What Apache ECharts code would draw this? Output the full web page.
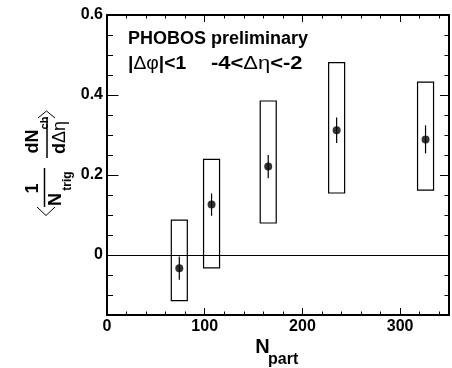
<!DOCTYPE html>
<html>
<head>
<meta charset="utf-8">
<script src="https://cdn.jsdelivr.net/npm/echarts@6/dist/echarts.min.js"></script>
<style>
html, body { margin: 0; padding: 0; background: #fff; }
#chart { width: 452px; height: 368px; }
</style>
</head>
<body>
<div id="chart"></div>
<script>
// ridge yield vs centrality
const nPart = [74, 107, 165, 235, 326];
const ridgeYield = [-0.033, 0.126, 0.221, 0.312, 0.289];
const statErr = [0.029, 0.028, 0.029, 0.032, 0.035];
const sysLow = [-0.114, -0.032, 0.080, 0.155, 0.162];
const sysHigh = [0.087, 0.239, 0.385, 0.481, 0.432];

const xMajorTicks = [0, 100, 200, 300];
const yMajorTicks = [0, 0.2, 0.4, 0.6];

const FONT = '"Liberation Sans", Arial, Helvetica, sans-serif';
const BLACK = '#000';

function xAxes(pos, withLabels, majorLen, minorLen) {
	return [
		{
			type: 'value',
			position: pos,
			min: 0,
			max: 350,
			interval: 20,
			axisLine: { show: true, onZero: false, lineStyle: { color: BLACK, width: 2 } },
			axisTick: { show: true, inside: true, length: minorLen, lineStyle: { color: BLACK, width: 1 } },
			axisLabel: {
				show: withLabels,
				margin: 4,
				color: BLACK,
				fontFamily: FONT,
				fontWeight: 'bold',
				fontSize: 16,
				formatter: (v) => (xMajorTicks.includes(Math.round(v)) ? String(Math.round(v)) : ''),
			},
			splitLine: { show: false },
		},
		{
			type: 'value',
			position: pos,
			min: 0,
			max: 350,
			axisLine: { show: false, onZero: false },
			axisTick: { show: true, inside: true, length: majorLen, customValues: xMajorTicks, lineStyle: { color: BLACK, width: 1 } },
			axisLabel: { show: false },
			splitLine: { show: false },
		},
	];
}

function yAxes(pos, withLabels, majorLen, minorLen) {
	return [
		{
			type: 'value',
			position: pos,
			min: -0.15,
			max: 0.6,
			interval: 0.05,
			axisLine: { show: true, onZero: false, lineStyle: { color: BLACK, width: 2 } },
			axisTick: { show: true, inside: true, length: minorLen, lineStyle: { color: BLACK, width: 1 } },
			axisLabel: {
				show: withLabels,
				margin: 4,
				color: BLACK,
				fontFamily: FONT,
				fontWeight: 'bold',
				fontSize: 16,
				formatter: (v) => {
					const k = Math.round(v * 20);
					if (k % 4 !== 0) return '';
					return k === 0 ? '0' : (k / 20).toFixed(1);
				},
			},
			splitLine: { show: false },
		},
		{
			type: 'value',
			position: pos,
			min: -0.15,
			max: 0.6,
			axisLine: { show: false, onZero: false },
			axisTick: { show: true, inside: true, length: majorLen, customValues: yMajorTicks, lineStyle: { color: BLACK, width: 1 } },
			axisLabel: { show: false },
			splitLine: { show: false },
		},
	];
}

function txt(x, y, text, size, weight, extra, align) {
	return Object.assign({
		type: 'text',
		x: x,
		y: y,
		silent: true,
		style: {
			text: text,
			fontFamily: FONT,
			fontSize: size,
			fontWeight: weight,
			fill: BLACK,
			textAlign: align || 'center',
			textVerticalAlign: 'middle',
		},
	}, extra || {});
}

const ROT = { rotation: Math.PI / 2 };

const mixedRich = {
	b: { fontFamily: FONT, fontSize: 18, fontWeight: 'bold', fill: BLACK },
	g: { fontFamily: FONT, fontSize: 18, fontWeight: 'normal', fill: BLACK },
};

const chart = echarts.init(document.getElementById('chart'), null, { renderer: 'canvas' });

chart.setOption({
	animation: false,
	backgroundColor: '#fff',
	grid: { left: 107, top: 15, width: 344, height: 300, containLabel: false },
	xAxis: [].concat(xAxes('bottom', true, 7, 3.5), xAxes('top', false, 7, 3.5)),
	yAxis: [].concat(yAxes('left', true, 11.5, 6), yAxes('right', false, 9, 4.5)),
	series: [
		{
			// systematic error boxes
			type: 'custom',
			xAxisIndex: 0,
			yAxisIndex: 0,
			silent: true,
			z: 2,
			data: nPart.map((x, i) => [x, sysLow[i], sysHigh[i]]),
			encode: { x: 0, y: [1, 2] },
			renderItem: (params, api) => {
				const lo = api.coord([api.value(0), api.value(1)]);
				const hi = api.coord([api.value(0), api.value(2)]);
				const halfW = 8;
				return {
					type: 'rect',
					shape: { x: lo[0] - halfW, y: hi[1], width: halfW * 2, height: lo[1] - hi[1] },
					style: { fill: 'none', stroke: BLACK, lineWidth: 1.2 },
				};
			},
		},
		{
			// statistical error bars
			type: 'custom',
			xAxisIndex: 0,
			yAxisIndex: 0,
			silent: true,
			z: 3,
			data: nPart.map((x, i) => [x, ridgeYield[i] - statErr[i], ridgeYield[i] + statErr[i]]),
			encode: { x: 0, y: [1, 2] },
			renderItem: (params, api) => {
				const lo = api.coord([api.value(0), api.value(1)]);
				const hi = api.coord([api.value(0), api.value(2)]);
				return {
					type: 'line',
					shape: { x1: lo[0], y1: lo[1], x2: hi[0], y2: hi[1] },
					style: { stroke: BLACK, lineWidth: 1.2 },
				};
			},
		},
		{
			type: 'scatter',
			xAxisIndex: 0,
			yAxisIndex: 0,
			z: 4,
			symbol: 'circle',
			symbolSize: 8,
			itemStyle: { color: BLACK },
			data: nPart.map((x, i) => [x, ridgeYield[i]]),
			markLine: {
				silent: true,
				symbol: 'none',
				label: { show: false },
				lineStyle: { color: BLACK, width: 1, type: 'solid' },
				data: [{ yAxis: 0 }],
			},
		},
	],
	graphic: [
		txt(128, 39, 'PHOBOS preliminary', 18, 'bold', {}, 'left'),
		{
			type: 'text',
			x: 128,
			y: 64,
			scaleX: 1.07,
			silent: true,
			style: { text: '{b||}{g|Δφ}{b||<1}', textAlign: 'left', textVerticalAlign: 'middle', rich: mixedRich },
		},
		{
			type: 'text',
			x: 211,
			y: 64,
			scaleX: 1.22,
			silent: true,
			style: { text: '{b|-4<}{g|Δη}{b|<-2}', textAlign: 'left', textVerticalAlign: 'middle', rich: mixedRich },
		},
		// x axis title
		txt(262.5, 347.5, 'N', 20, 'bold', {}),
		txt(268, 360, 'part', 16, 'bold', {}, 'left'),
		// y axis title: < 1/N_trig  dN_ch/dΔη >
		txt(33.5, 188.5, '1', 18, 'bold', ROT),
		txt(56.5, 199.5, 'N', 18, 'bold', ROT),
		txt(67.5, 181, 'trig', 12, 'bold', ROT),
		{ type: 'line', silent: true, shape: { x1: 44.5, y1: 168, x2: 44.5, y2: 207 }, style: { stroke: BLACK, lineWidth: 1.5 } },
		txt(33.5, 141.5, 'dN', 18, 'bold', ROT),
		txt(44.5, 123, 'ch', 11, 'bold', ROT),
		{ type: 'line', silent: true, shape: { x1: 47, y1: 117, x2: 47, y2: 158 }, style: { stroke: BLACK, lineWidth: 1.5 } },
		{
			type: 'text',
			x: 60,
			y: 137.5,
			rotation: Math.PI / 2,
			silent: true,
			style: { text: '{b|d}{g|Δη}', textAlign: 'center', textVerticalAlign: 'middle', rich: mixedRich },
		},
		{ type: 'polyline', silent: true, shape: { points: [[37, 207], [46, 215.5], [55, 207]] }, style: { stroke: BLACK, fill: 'none', lineWidth: 1 } },
		{ type: 'polyline', silent: true, shape: { points: [[38, 118], [46.5, 111], [55, 118]] }, style: { stroke: BLACK, fill: 'none', lineWidth: 1 } },
	],
});
</script>
</body>
</html>
